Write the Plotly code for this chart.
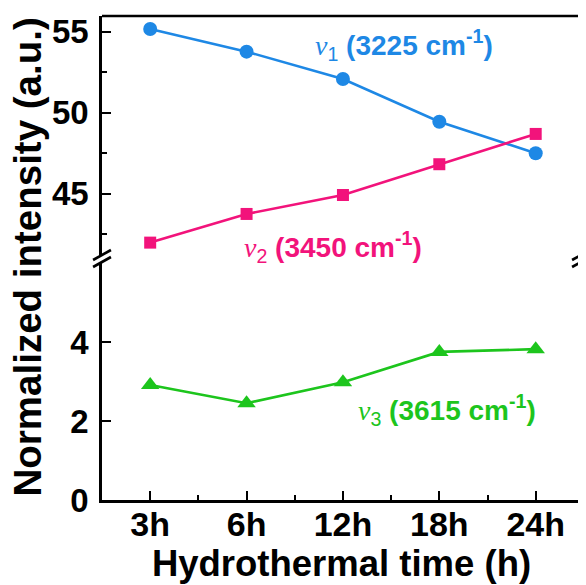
import plotly.graph_objects as go

# ---------------- data ----------------
categories = ["3h", "6h", "12h", "18h", "24h"]
x_idx = [0, 1, 2, 3, 4]
v1_values = [55.17, 53.77, 52.08, 49.44, 47.50]   # ν1 (3225 cm-1), upper panel
v2_values = [41.98, 43.75, 44.92, 46.82, 48.69]   # ν2 (3450 cm-1), upper panel
v3_values = [2.91, 2.45, 2.98, 3.75, 3.82]        # ν3 (3615 cm-1), lower panel
upper_ticks = [45, 50, 55]
upper_minor = [42.5, 47.5, 52.5]
lower_ticks = [0, 2, 4]

# ---------------- style ----------------
# the page body has an 8px default margin, so the figure is shrunk to fit
OFF = 8
W, H = 586 - OFF, 585 - OFF
ML, MR, MT, MB = 102 - OFF, 2, 16 - OFF, 85
BLUE = "#1E88E5"
PINK = "#F2137B"
GREEN = "#1DC51D"
FONT = "Liberation Sans"
LW = 2.6

fig = go.Figure()
fig.add_trace(go.Scatter(x=x_idx, y=v1_values, yaxis="y2", mode="lines+markers",
                         line=dict(color=BLUE, width=LW),
                         marker=dict(symbol="circle", size=14, color=BLUE)))
fig.add_trace(go.Scatter(x=x_idx, y=v2_values, yaxis="y2", mode="lines+markers",
                         line=dict(color=PINK, width=LW),
                         marker=dict(symbol="square", size=12, color=PINK)))
fig.add_trace(go.Scatter(x=x_idx, y=v3_values, yaxis="y", mode="lines+markers",
                         line=dict(color=GREEN, width=LW),
                         marker=dict(symbol="triangle-up", size=16, color=GREEN)))

tickfont = dict(family=FONT, size=33, color="black", weight="bold")
common_y = dict(showline=True, linecolor="black", linewidth=LW, mirror=True,
                ticks="inside", ticklen=9, tickwidth=2, tickcolor="black",
                showgrid=False, zeroline=False, tickfont=tickfont,
                ticklabelstandoff=4)

fig.update_layout(
    width=W, height=H,
    margin=dict(l=ML, r=MR, t=MT, b=MB),
    paper_bgcolor="white", plot_bgcolor="white",
    showlegend=False,
    xaxis=dict(range=[-0.5, 4.47], tickvals=x_idx, ticktext=categories,
               anchor="y", showline=True, linecolor="black", linewidth=LW,
               ticks="inside", ticklen=9, tickwidth=2, tickcolor="black",
               minor=dict(tickvals=[0.5, 1.5, 2.5, 3.5], ticks="inside",
                          ticklen=5, tickwidth=2, tickcolor="black"),
               showgrid=False, zeroline=False, tickfont=dict(tickfont, size=34),
               ticklabelstandoff=-8,
               title=dict(text="Hydrothermal time (h)", standoff=0,
                          font=dict(family=FONT, size=36.5, color="black", weight="bold"))),
    yaxis=dict(domain=[0, 0.492], range=[0, 6.03], tickvals=lower_ticks, **common_y),
    yaxis2=dict(domain=[0.504, 1], range=[41.15, 55.97], tickvals=upper_ticks,
                minor=dict(tickvals=upper_minor, ticks="inside", ticklen=5,
                           tickwidth=2, tickcolor="black"),
                **common_y),
)

# top frame line
fig.add_shape(type="line", xref="paper", yref="paper", x0=0, x1=1, y0=1, y1=1,
              line=dict(color="black", width=LW))

# pixel (window coords) -> paper helpers
def px(xp):
    return (xp - OFF - ML) / (W - ML - MR)

def py(yp):
    return (H - MB - (yp - OFF)) / (H - MT - MB)

# axis-break marks
for cx in (102, 584):
    for dy in (0, 7):
        fig.add_shape(type="line", xref="paper", yref="paper",
                      x0=px(cx - 9), y0=py(260 + dy), x1=px(cx + 9), y1=py(250 + dy),
                      line=dict(color="black", width=LW))

# y title spanning both panels
fig.add_annotation(xref="paper", yref="paper", x=px(28), y=py(257), textangle=-90,
                   xanchor="center", yanchor="middle",
                   text="Normalized intensity (a.u.)", showarrow=False,
                   font=dict(family=FONT, size=38.5, color="black", weight="bold"))

def label(sub, rest):
    return ("<span style=\"font-family:'Liberation Serif';font-weight:normal\">"
            "<i>ν</i></span><span style=\"font-weight:normal\"><sub>%s</sub></span>"
            " (%s cm<sup>-1</sup>)" % (sub, rest))

lab_font = dict(family=FONT, size=28, weight="bold")
fig.add_annotation(x=2.63, y=54.18, xref="x", yref="y2", text=label("1", "3225"),
                   showarrow=False, font=dict(color=BLUE, **lab_font))
fig.add_annotation(x=1.9, y=41.7, xref="x", yref="y2", text=label("2", "3450"),
                   showarrow=False, font=dict(color=PINK, **lab_font))
fig.add_annotation(x=3.08, y=2.28, xref="x", yref="y", text=label("3", "3615"),
                   showarrow=False, font=dict(color=GREEN, **lab_font))

fig.write_html("out.html")
